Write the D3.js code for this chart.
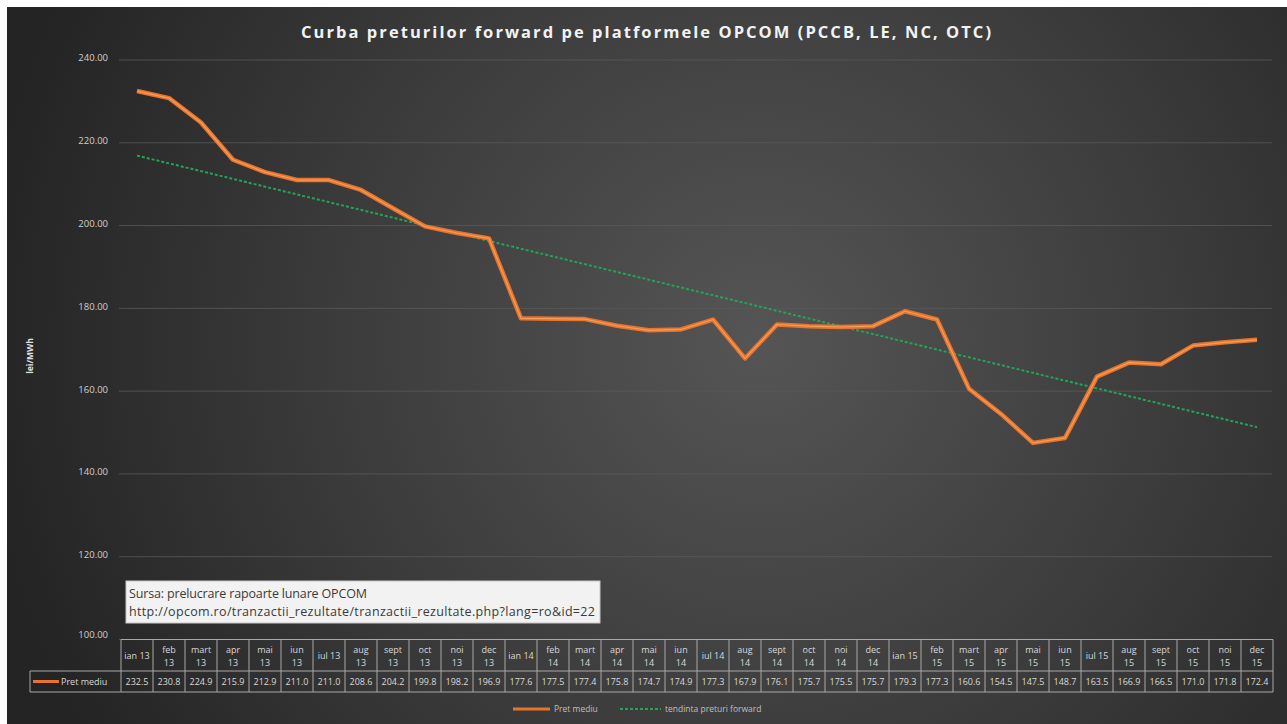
<!DOCTYPE html>
<html><head><meta charset="utf-8">
<script src="https://cdn.jsdelivr.net/npm/d3@7"></script>
<style>
html,body{margin:0;padding:0;background:#fff;}
svg{display:block;}
text{font-family:"Open Sans","DejaVu Sans",sans-serif;}
</style></head>
<body><svg id="c" width="1287" height="724"></svg>
<script>
const categories = ["ian 13","feb 13","mart 13","apr 13","mai 13","iun 13","iul 13","aug 13","sept 13","oct 13","noi 13","dec 13",
"ian 14","feb 14","mart 14","apr 14","mai 14","iun 14","iul 14","aug 14","sept 14","oct 14","noi 14","dec 14",
"ian 15","feb 15","mart 15","apr 15","mai 15","iun 15","iul 15","aug 15","sept 15","oct 15","noi 15","dec 15"];
const pretMediu = [232.5,230.8,224.9,215.9,212.9,211.0,211.0,208.6,204.2,199.8,198.2,196.9,
177.6,177.5,177.4,175.8,174.7,174.9,177.3,167.9,176.1,175.7,175.5,175.7,
179.3,177.3,160.6,154.5,147.5,148.7,163.5,166.9,166.5,171.0,171.8,172.4];
// trend line endpoints (first and last category)
const trendEnds = [216.9, 151.3];
const yTicks = [100,120,140,160,180,200,220,240];
const title = "Curba preturilor forward pe platformele OPCOM (PCCB, LE, NC, OTC)";
const yTitle = "lei/MWh";
const seriesNames = ["Pret mediu","tendinta preturi forward"];
const sourceLines = ["Sursa: prelucrare rapoarte lunare OPCOM","http://opcom.ro/tranzactii_rezultate/tranzactii_rezultate.php?lang=ro&id=22"];

const svg = d3.select("#c");
const defs = svg.append("defs");
const rg = defs.append("radialGradient").attr("id","bg").attr("gradientUnits","userSpaceOnUse")
  .attr("cx",760).attr("cy",340).attr("r",780);
rg.append("stop").attr("offset","0").attr("stop-color","#555555");
rg.append("stop").attr("offset","0.55").attr("stop-color","#3b3b3b");
rg.append("stop").attr("offset","1").attr("stop-color","#242424");
svg.append("rect").attr("x",7).attr("y",7).attr("width",1280).attr("height",717).attr("fill","url(#bg)");

const x = d3.scaleBand().domain(categories).range([121,1273]);
const y = d3.scaleLinear().domain([100,240]).range([639.5,60]);
const cx = c => x(c) + x.bandwidth()/2;

// gridlines
svg.append("g").selectAll("line").data(yTicks).join("line")
  .attr("x1",119).attr("x2",1272).attr("y1",d=>y(d)).attr("y2",d=>y(d))
  .attr("stroke","#5a5a5a").attr("stroke-width",1).attr("opacity",0.8);

// y axis labels via d3 axis
const yAxis = d3.axisLeft(y).tickValues(yTicks).tickFormat(d3.format(".2f")).tickSize(0).tickPadding(0);
const ga = svg.append("g").attr("transform","translate(108,0)").call(yAxis);
ga.select(".domain").remove();
ga.selectAll("text").attr("fill","#cfcfcf").style("font-size","9.5px").attr("dy","0.1em")
  .style("font-family","'Open Sans',sans-serif");
ga.selectAll("text").filter(d=>d===100).attr("dy","-0.2em");

svg.append("text").attr("transform","translate(33,356) rotate(-90)").attr("text-anchor","middle")
  .attr("fill","#e0e0e0").style("font-size","8.5px").style("font-weight","bold").text(yTitle);

// title
svg.append("text").attr("x",301).attr("y",38).attr("fill","#f2f2f2")
  .style("font-size","16.5px").style("font-weight","bold")
  .attr("textLength",690).attr("lengthAdjust","spacing").text(title);

// trend line
svg.append("line").attr("x1",cx(categories[0])).attr("y1",y(trendEnds[0]))
  .attr("x2",cx(categories[categories.length-1])).attr("y2",y(trendEnds[1]))
  .attr("stroke","#23a35a").attr("stroke-width",2).attr("stroke-dasharray","3,2");

// price line
const line = d3.line().x((d,i)=>cx(categories[i])).y(d=>y(d));
svg.append("path").datum(pretMediu).attr("d",line).attr("fill","none")
  .attr("stroke","#e8742c").attr("stroke-width",4.5).attr("stroke-linejoin","round");
svg.append("path").datum(pretMediu).attr("d",line).attr("fill","none")
  .attr("stroke","#f7a86c").attr("stroke-width",1.2).attr("stroke-linejoin","round").attr("opacity",0.8);

// source box
svg.append("rect").attr("x",126).attr("y",581).attr("width",474).attr("height",42)
  .attr("fill","#f2f2f2").attr("stroke","#c8c8c8");
svg.append("g").selectAll("text").data(sourceLines).join("text")
  .attr("x",129).attr("y",(d,i)=>598+i*18).attr("fill","#3a3a3a").style("font-size","12.5px")
  .attr("textLength",(d,i)=>i===0?238:466).attr("lengthAdjust","spacing").text(d=>d);

// data table
const tTop = 639.5, hBot = 671, vBot = 692, keyL = 30;
const tg = svg.append("g");
const bc = "#a8a8a8";
tg.append("line").attr("x1",121).attr("x2",1273).attr("y1",tTop).attr("y2",tTop).attr("stroke",bc);
tg.append("line").attr("x1",keyL).attr("x2",1273).attr("y1",hBot).attr("y2",hBot).attr("stroke",bc);
tg.append("line").attr("x1",keyL).attr("x2",1273).attr("y1",vBot).attr("y2",vBot).attr("stroke",bc);
tg.append("line").attr("x1",keyL).attr("x2",keyL).attr("y1",hBot).attr("y2",vBot).attr("stroke",bc);
const bounds = categories.map(c=>x(c)).concat([x(categories[categories.length-1])+x.bandwidth()]);
tg.selectAll("line.v").data(bounds).join("line").attr("class","v")
  .attr("x1",d=>d).attr("x2",d=>d).attr("y1",tTop).attr("y2",vBot).attr("stroke",bc);

const fs = "9px";
// measure the reference month word "ian": labels whose month word is wider get wrapped
const probe = tg.append("text").style("font-size",fs).text("ian");
const limit = probe.node().getComputedTextLength() + 0.05;
probe.remove();
const hdr = tg.selectAll("text.h").data(categories).join("text").attr("class","h")
  .attr("text-anchor","middle").attr("fill","#d8d8d8").style("font-size",fs);
hdr.each(function(c){
  const t = d3.select(this);
  const parts = c.split(" ");
  t.text(parts[0]);
  const w = this.getComputedTextLength();
  if (w > limit) {
    t.text(null);
    t.append("tspan").attr("x",cx(c)).attr("y",tTop+13).text(parts[0]);
    t.append("tspan").attr("x",cx(c)).attr("y",tTop+26).text(parts[1]);
  } else {
    t.text(c).attr("x",cx(c)).attr("y",tTop+19);
  }
});
tg.selectAll("text.v").data(pretMediu).join("text").attr("class","v")
  .attr("x",(d,i)=>cx(categories[i])).attr("y",hBot+14).attr("text-anchor","middle")
  .attr("fill","#d8d8d8").style("font-size",fs).text(d=>d3.format(".1f")(d));
tg.append("line").attr("x1",33).attr("x2",59).attr("y1",hBot+10.5).attr("y2",hBot+10.5)
  .attr("stroke","#e8742c").attr("stroke-width",3);
tg.append("text").attr("x",61).attr("y",hBot+14).attr("fill","#d8d8d8").style("font-size",fs).text(seriesNames[0]);

// legend
const lg = svg.append("g");
lg.append("line").attr("x1",513).attr("x2",550).attr("y1",709).attr("y2",709).attr("stroke","#e8742c").attr("stroke-width",3);
lg.append("text").attr("x",554).attr("y",712).attr("fill","#bfbfbf").style("font-size","8.5px").text(seriesNames[0]);
lg.append("line").attr("x1",620).attr("x2",661).attr("y1",709).attr("y2",709).attr("stroke","#23a35a").attr("stroke-width",2).attr("stroke-dasharray","3,2");
lg.append("text").attr("x",665).attr("y",712).attr("fill","#bfbfbf").style("font-size","8.5px").text(seriesNames[1]);
</script></body></html>
